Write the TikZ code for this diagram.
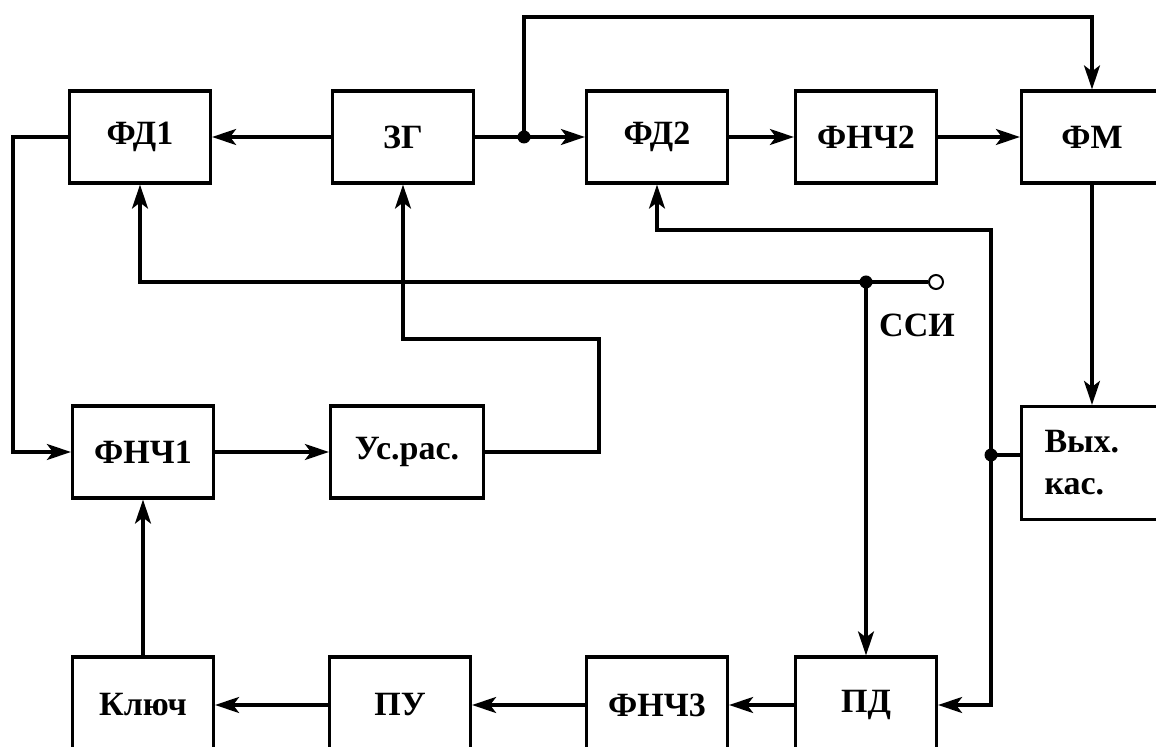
\documentclass[tikz,border=0pt]{standalone}
\usepackage{fontspec}
\setmainfont{Liberation Serif}
\usepackage{tikz}
\usetikzlibrary{arrows.meta, calc, positioning}

\begin{document}
\begin{tikzpicture}[x=0.5pt, y=-0.5pt,
    blok/.style={draw, line width=1.6pt, minimum width=70.5pt, minimum height=46pt, inner sep=2pt, font=\bfseries\fontsize{17}{21}\selectfont},
    svyaz/.style={line width=1.6pt, -{Stealth[length=12pt, width=8pt, inset=3pt]}},
    provod/.style={line width=1.6pt},
    uzel/.style={circle, fill, inner sep=0pt, minimum size=6.5pt}]
    \useasboundingbox (0,0) rectangle (1156,747);
    \clip (0,0) rectangle (1156,747);

    % верхний ряд
    \node[blok] (fd1) at (140,137) {ФД1};
    \node[blok] (zg) at (403,137) {ЗГ};
    \node[blok] (fd2) at (657,137) {ФД2};
    \node[blok] (fnch2) at (866,137) {ФНЧ2};
    \node[blok] (fm) at (1092,137) {ФМ};

    % средний ряд
    \node[blok] (fnch1) at (143,452) {ФНЧ1};
    \node[blok, minimum width=76.5pt] (usras) at (407,452) {Ус.рас.};
    \node[blok, minimum height=56.5pt, text width=47.5pt, align=left] (vyh) at (1092,463) {Вых.\\кас.};

    % нижний ряд
    \node[blok, minimum height=48pt] (klyuch) at (143,705) {Ключ};
    \node[blok, minimum height=48pt] (pu) at (400,705) {ПУ};
    \node[blok, minimum height=48pt] (fnch3) at (657,705) {ФНЧ3};
    \node[blok, minimum height=48pt] (pd) at (866,705) {ПД};

    % вход ССИ
    \node[circle, draw, line width=1pt, fill=white, inner sep=0pt, minimum size=7pt] (vhod) at (936,282) {};
    \node[font=\bfseries\fontsize{17}{21}\selectfont] (ssi) at (917,325) {ССИ};

    % узлы
    \node[uzel] (t1) at (524,137) {};
    \node[uzel] (t2) at (866,282) {};
    \node[uzel] (t3) at (991,455) {};
    \coordinate (verh) at (524,17);
    \coordinate (lev) at (13,300);
    \coordinate (pr) at (599,339);
    \coordinate (ugol) at (991,230);

    % связи
    \draw[svyaz] (zg) -- (fd1);
    \draw[provod] (zg.east) -- (t1.center);
    \draw[svyaz] (t1.center) -- (fd2.west);
    \draw[svyaz] (t1.center) -- (verh) -| (fm.north);
    \draw[svyaz] (fd2) -- (fnch2);
    \draw[svyaz] (fnch2) -- (fm);
    \draw[svyaz] (fm.south) -- (vyh.north);
    \draw[svyaz] (fd1.west) -| (lev) |- (fnch1.west);
    \draw[svyaz] (fnch1) -- (usras);
    \draw[svyaz] (usras.east) -| (pr) -| (zg.south);
    \draw[provod] (vhod) -- (t2.center);
    \draw[svyaz] (t2.center) -| (fd1.south);
    \draw[svyaz] (t2.center) -- (pd.north);
    \draw[provod] (vyh.west |- t3) -- (t3.center);
    \draw[svyaz] (t3.center) -- (ugol) -| (fd2.south);
    \draw[svyaz] (t3.center) |- (pd.east);
    \draw[svyaz] (pd) -- (fnch3);
    \draw[svyaz] (fnch3) -- (pu);
    \draw[svyaz] (pu) -- (klyuch);
    \draw[svyaz] (klyuch) -- (fnch1);
\end{tikzpicture}
\end{document}
